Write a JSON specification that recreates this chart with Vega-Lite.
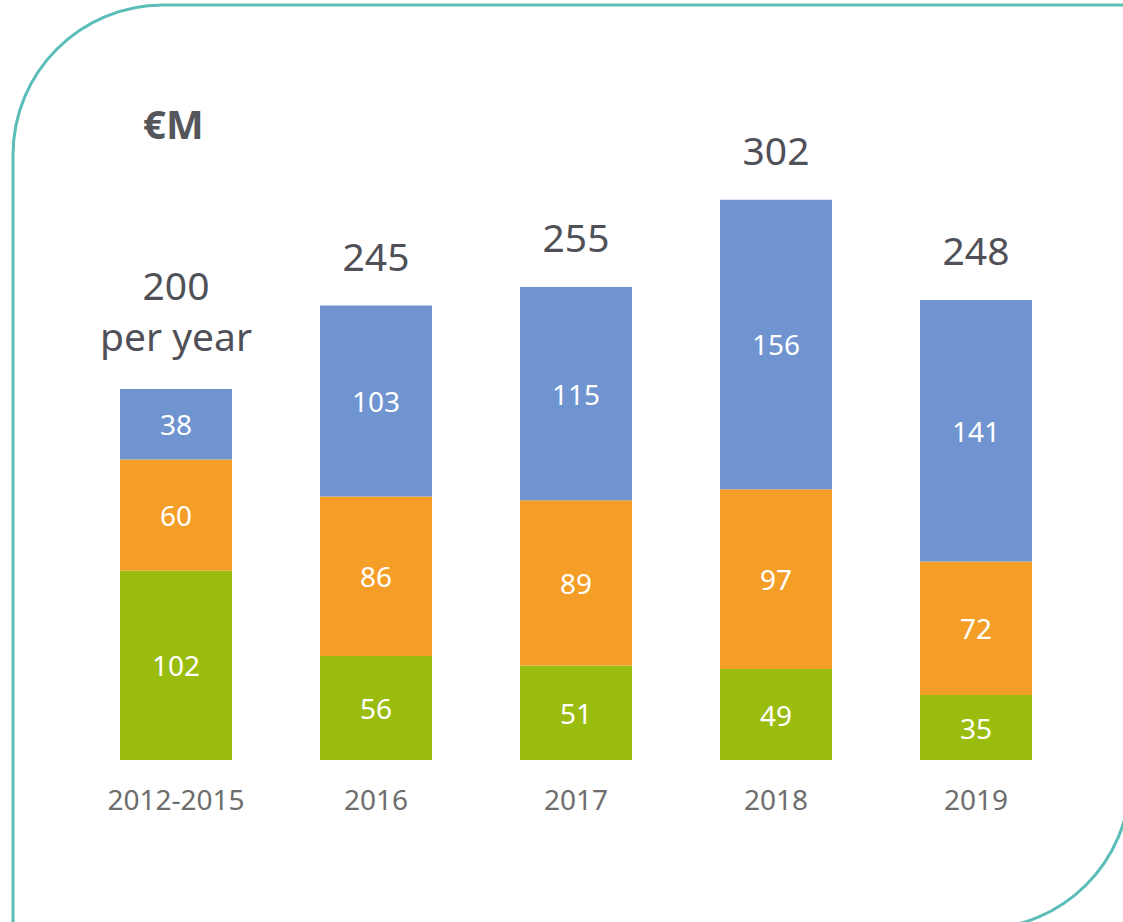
{
  "$schema": "https://vega.github.io/schema/vega-lite/v6.json",
  "autosize": {"type": "none"},
  "padding": {"left": 13, "top": 5, "right": 0, "bottom": 0},
  "width": 1117,
  "height": 924,
  "background": "white",
  "config": {
    "view": {"stroke": null},
    "font": "Noto Sans"
  },
  "title": {
    "text": "€M",
    "anchor": "start",
    "frame": "group",
    "dx": 130,
    "dy": 147,
    "fontSize": 40,
    "fontWeight": "bold",
    "color": "#55555c",
    "font": "Noto Sans"
  },
  "datasets": {
    "frame": [{"name": "panel"}],
    "parts": [
      {"period": "2012-2015", "part": "green", "rank": 1, "value": 102},
      {"period": "2012-2015", "part": "orange", "rank": 2, "value": 60},
      {"period": "2012-2015", "part": "blue", "rank": 3, "value": 38},
      {"period": "2016", "part": "green", "rank": 1, "value": 56},
      {"period": "2016", "part": "orange", "rank": 2, "value": 86},
      {"period": "2016", "part": "blue", "rank": 3, "value": 103},
      {"period": "2017", "part": "green", "rank": 1, "value": 51},
      {"period": "2017", "part": "orange", "rank": 2, "value": 89},
      {"period": "2017", "part": "blue", "rank": 3, "value": 115},
      {"period": "2018", "part": "green", "rank": 1, "value": 49},
      {"period": "2018", "part": "orange", "rank": 2, "value": 97},
      {"period": "2018", "part": "blue", "rank": 3, "value": 156},
      {"period": "2019", "part": "green", "rank": 1, "value": 35},
      {"period": "2019", "part": "orange", "rank": 2, "value": 72},
      {"period": "2019", "part": "blue", "rank": 3, "value": 141}
    ],
    "totals": [
      {"period": "2012-2015", "total": 200, "label": "200\nper year", "note": "per year"},
      {"period": "2016", "total": 245, "label": "245"},
      {"period": "2017", "total": 255, "label": "255"},
      {"period": "2018", "total": 302, "label": "302"},
      {"period": "2019", "total": 248, "label": "248"}
    ]
  },
  "layer": [
    {
      "data": {"name": "frame"},
      "mark": {
        "type": "rect",
        "fill": null,
        "stroke": "#5bbdb8",
        "strokeWidth": 3,
        "cornerRadiusTopLeft": 150,
        "cornerRadiusBottomRight": 150
      },
      "encoding": {}
    },
    {
      "data": {"name": "parts"},
      "encoding": {
        "x": {
          "field": "period",
          "type": "nominal",
          "sort": ["2012-2015", "2016", "2017", "2018", "2019"],
          "scale": {"range": [63, 1063], "paddingInner": 0.44, "paddingOuter": 0.22},
          "axis": null
        },
        "order": {"field": "rank", "type": "quantitative"}
      },
      "layer": [
        {
          "mark": {"type": "bar"},
          "encoding": {
            "y": {"field": "value", "type": "quantitative", "stack": "zero", "scale": {"domain": [0, 407], "range": [755, 0], "nice": false, "zero": true}, "axis": null},
            "color": {
              "field": "part",
              "type": "nominal",
              "scale": {"domain": ["green", "orange", "blue"], "range": ["#9abc0e", "#f49e28", "#7094d0"]},
              "legend": null
            }
          }
        },
        {
          "mark": {"type": "text", "color": "white", "fontSize": 28, "baseline": "middle", "dy": 3, "font": "Noto Sans"},
          "encoding": {
            "y": {"field": "value", "type": "quantitative", "stack": "zero", "bandPosition": 0.5},
            "detail": {"field": "part"},
            "text": {"field": "value", "type": "quantitative"}
          }
        }
      ]
    },
    {
      "data": {"name": "totals"},
      "encoding": {
        "x": {
          "field": "period",
          "type": "nominal",
          "sort": ["2012-2015", "2016", "2017", "2018", "2019"],
          "axis": null
        }
      },
      "layer": [
        {
          "transform": [{"filter": "!datum.note"}],
          "mark": {"type": "text", "color": "#505058", "fontSize": 39, "baseline": "alphabetic", "dy": -35, "font": "Noto Sans"},
          "encoding": {
            "y": {"field": "total", "type": "quantitative"},
            "text": {"field": "label"}
          }
        },
        {
          "transform": [{"filter": "datum.note"}],
          "mark": {"type": "text", "color": "#505058", "fontSize": 39, "baseline": "alphabetic", "dy": -89, "lineBreak": "\n", "lineHeight": 51, "font": "Noto Sans"},
          "encoding": {
            "y": {"field": "total", "type": "quantitative"},
            "text": {"field": "label"}
          }
        },
        {
          "mark": {"type": "text", "color": "#6d6d6d", "fontSize": 28, "baseline": "middle", "dy": 42, "font": "Noto Sans"},
          "encoding": {
            "y": {"datum": 0, "type": "quantitative"},
            "text": {"field": "period"}
          }
        }
      ]
    }
  ]
}
